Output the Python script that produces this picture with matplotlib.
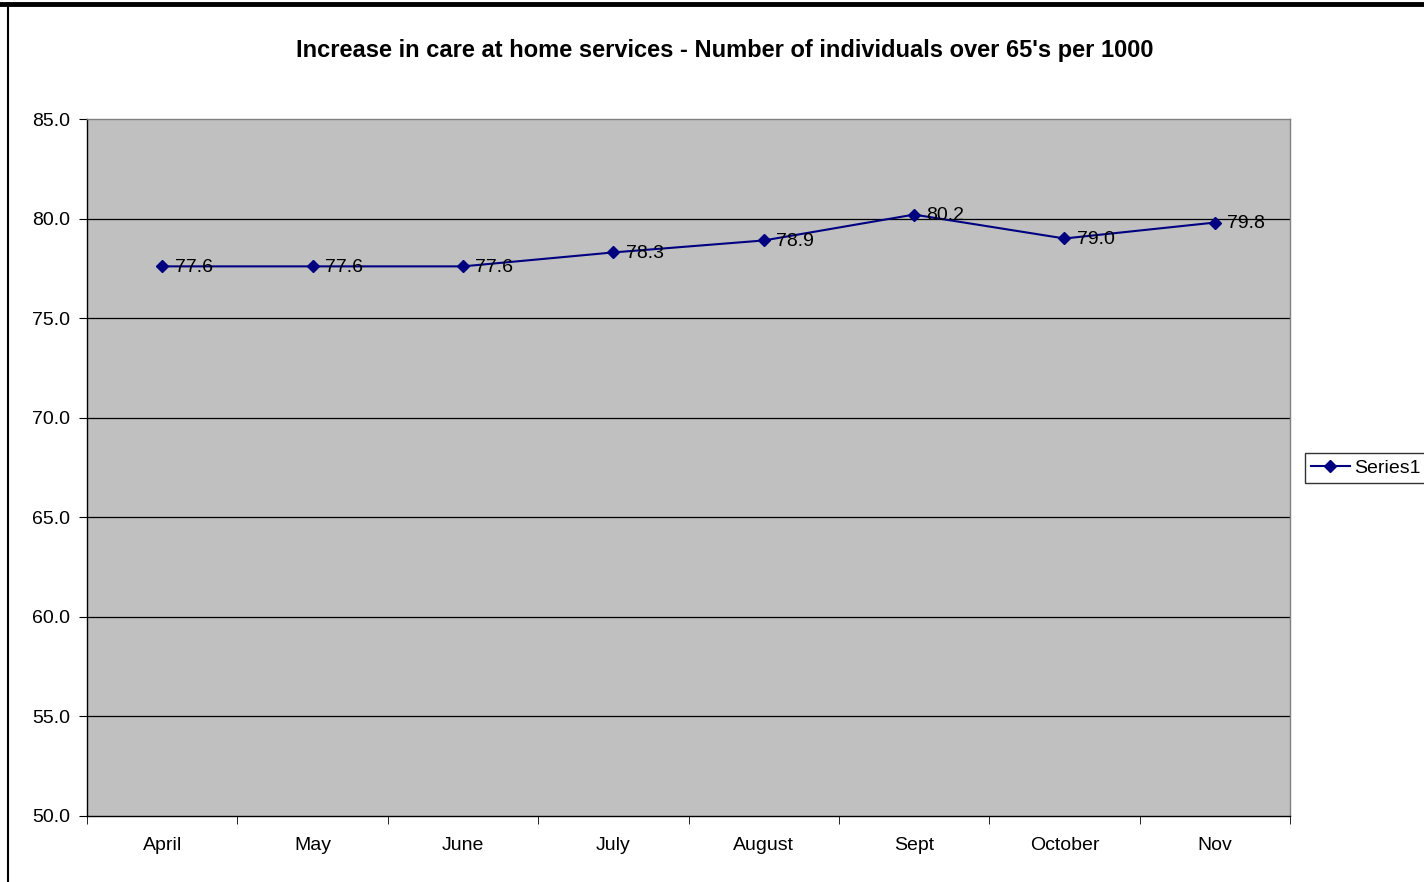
import matplotlib.pyplot as plt
from matplotlib.lines import Line2D

plt.rcParams['font.family'] = ['Liberation Sans', 'DejaVu Sans']

# Care at home: individuals over 65 per 1000, by month
months = ['April', 'May', 'June', 'July', 'August', 'Sept', 'October', 'Nov']
per_1000 = [77.6, 77.6, 77.6, 78.3, 78.9, 80.2, 79.0, 79.8]
y_ticks = [50.0, 55.0, 60.0, 65.0, 70.0, 75.0, 80.0, 85.0]

W, H = 1424, 882
fig = plt.figure(figsize=(W / 100, H / 100), dpi=100)
fig.patch.set_facecolor('white')

# plot area in pixel terms
left, right, top, bottom = 87, 1290, 119, 816
ax = fig.add_axes([left / W, 1 - bottom / H, (right - left) / W, (bottom - top) / H])
ax.set_facecolor('#c0c0c0')

x = list(range(len(months)))
ax.plot(x, per_1000, color='#000080', lw=1.5, marker='D', ms=6.5, label='Series1')
for xi, v in zip(x, per_1000):
    ax.annotate(f'{v:.1f}', (xi, v), xytext=(9, -0.5), textcoords='offset points',
                va='center', ha='left', fontsize=14, color='black')

ax.set_xlim(-0.5, len(months) - 0.5)
ax.set_ylim(50, 85)
ax.set_yticks(y_ticks)
ax.set_yticklabels([f'{t:.1f}' for t in y_ticks], fontsize=14)
ax.set_xticks(x)
ax.set_xticklabels(months, fontsize=14)
ax.set_xticks([i + 0.5 for i in range(-1, len(months))], minor=True)
ax.tick_params(axis='x', which='major', length=0, pad=15)
ax.tick_params(axis='x', which='minor', length=6, direction='out', color='black')
ax.tick_params(axis='y', length=6, direction='out', pad=6)

for yt in y_ticks[1:-1]:
    ax.axhline(yt, color='black', lw=0.9, zorder=1)

for side in ['top', 'right']:
    ax.spines[side].set_color('#808080')
    ax.spines[side].set_linewidth(1)
for side in ['left', 'bottom']:
    ax.spines[side].set_color('black')
    ax.spines[side].set_linewidth(1)

fig.text(725 / W, 1 - 50 / H, "Increase in care at home services - Number of individuals over 65's per 1000",
         ha='center', va='center', fontsize=17, fontweight='bold')

leg = fig.legend(handles=[Line2D([], [], color='#000080', marker='D', ms=6.5, lw=1.5)],
                 labels=['Series1'], loc='center left',
                 bbox_to_anchor=(1305 / W, 1 - 468 / H), fontsize=14,
                 frameon=True, fancybox=False, edgecolor='black', handlelength=2.0,
                 borderpad=0.3, handletextpad=0.25, borderaxespad=0)
leg.get_frame().set_linewidth(1)

# page borders
fig.add_artist(Line2D([0, 1], [1 - 3.5 / H, 1 - 3.5 / H], color='black', lw=3.5,
                      transform=fig.transFigure))
fig.add_artist(Line2D([7.5 / W, 7.5 / W], [0, 1 - 3.5 / H], color='black', lw=1.5,
                      transform=fig.transFigure))

fig.savefig('out.png', dpi=100)
